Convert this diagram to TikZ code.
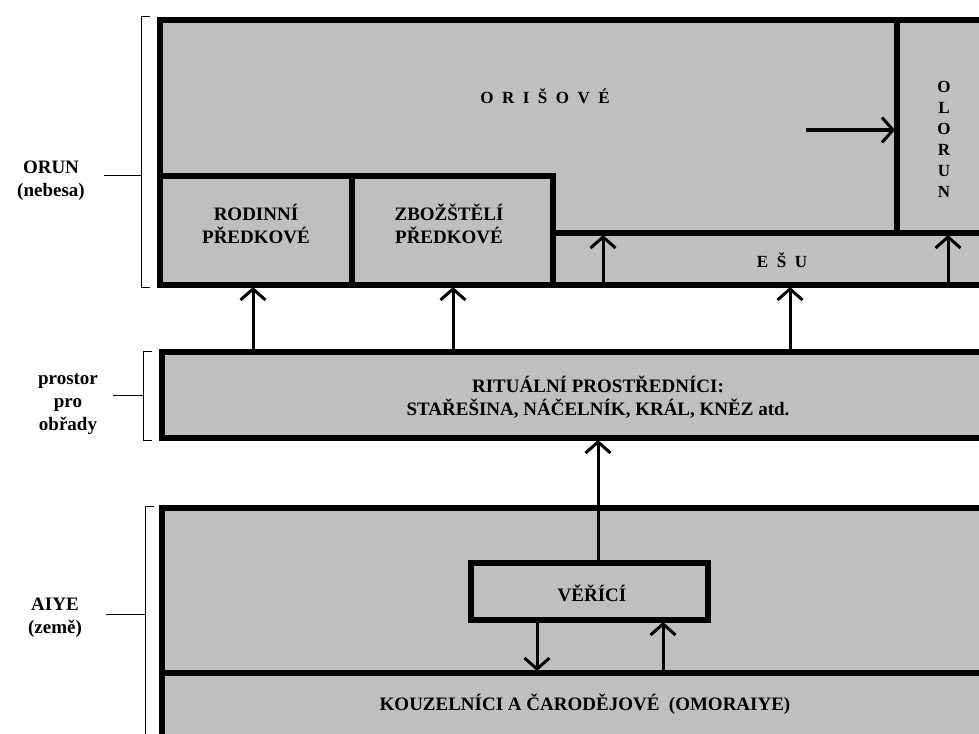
\documentclass[tikz,border=0pt]{standalone}
\usepackage{fontspec}
\setmainfont{Liberation Serif}
\usepackage{tikz}
\usetikzlibrary{arrows.meta}
\definecolor{cococo}{rgb}{0.75,0.75,0.75}
\tikzstyle{every node}=[font=\bfseries\fontsize{19}{23}\selectfont,align=center,inner sep=0pt]
\begin{document}
\begin{tikzpicture}[line cap=butt,line join=miter,x=1pt,y=-1pt,
    box/.style={draw=black,fill=cococo,line width=5.5pt,outer sep=0pt,anchor=north west},
    arr/.style={line width=3pt,shorten >=2pt,-{Straight Barb[length=11pt,width=25pt,line width=3pt]}},
    brk/.style={line width=1pt}]
    \useasboundingbox (0,0) rectangle (979,733);
    \clip (0,0) rectangle (979,733);
    % ORUN
    \node[box,minimum width=840,minimum height=265] (orun) at (160,20) {};
    \node[box,minimum width=192,minimum height=109] (rodinni) at (160,176) {};
    \node[box,minimum width=201,minimum height=109] (zbozsteli) at (352,176) {};
    \node[box,minimum width=447,minimum height=52] (esu) at (553,233) {};
    \node[box,minimum width=103,minimum height=213] (olorun) at (897,20) {};
    \node[font=\bfseries\fontsize{17}{21}\selectfont] (orisovelbl) at (545,96) {O\enspace R\enspace I\enspace Š\enspace O\enspace V\enspace É};
    \node (rodinnilbl) at (256,224) {RODINNÍ\\PŘEDKOVÉ};
    \node (zbozstelilbl) at (449,224) {ZBOŽŠTĚLÍ\\PŘEDKOVÉ};
    \node[font=\bfseries\fontsize{17}{21}\selectfont] (esulbl) at (782,260) {E\enspace Š\enspace U};
    \node[font=\bfseries\fontsize{17}{21}\selectfont] (olorunlbl) at (944,139) {O\\L\\O\\R\\U\\N};
    % obrady
    \node[box,minimum width=838,minimum height=86] (rituals) at (162,352) {};
    \node (ritualslbl) at (598,397) {RITUÁLNÍ PROSTŘEDNÍCI:\\STAŘEŠINA, NÁČELNÍK, KRÁL, KNĚZ atd.};
    % AIYE
    \node[box,minimum width=838,minimum height=260] (aiye) at (162,508) {};
    \node[box,minimum width=838,minimum height=100] (kouzelnici) at (162,673) {};
    \node[box,minimum width=237,minimum height=57] (verici) at (471,563) {};
    \node (vericilbl) at (592,593) {VĚŘÍCÍ};
    \node (kouzelnicilbl) at (585,704) {KOUZELNÍCI A ČARODĚJOVÉ\ \ (OMORAIYE)};
    % sipky
    \coordinate (orisovearr) at (806,130);
    \draw[arr] (orisovearr) -- (olorun.west |- orisovearr);
    \draw[arr] (603,0 |- orun.south) -- (603,0 |- esu.north);
    \draw[arr] (948,0 |- orun.south) -- (948,0 |- esu.north);
    \draw[arr] (253,0 |- rituals.north) -- (253,0 |- rodinni.south);
    \draw[arr] (453,0 |- rituals.north) -- (453,0 |- zbozsteli.south);
    \draw[arr] (790,0 |- rituals.north) -- (790,0 |- esu.south);
    \draw[arr] (598,0 |- verici.north) -- (598,0 |- rituals.south);
    \draw[arr] (537,0 |- verici.south) -- (537,0 |- kouzelnici.north);
    \draw[arr] (663,0 |- kouzelnici.north) -- (663,0 |- verici.south);
    % zavorky
    \draw[brk] (150,17) -- (141,17) -- (141,287) -- (150,287);
    \draw[brk] (104,175) -- (141,175);
    \node (orunlbl) at (51,181) {ORUN\\(nebesa)};
    \draw[brk] (152,351) -- (143,351) -- (143,440) -- (152,440);
    \draw[brk] (113,395) -- (143,395);
    \node (obradylbl) at (68,404) {prostor\\pro\\obřady};
    \draw[brk] (154,506) -- (145,506) -- (145,740);
    \draw[brk] (106,614) -- (145,614);
    \node (aiyelbl) at (55,618) {AIYE\\(země)};
\end{tikzpicture}
\end{document}
